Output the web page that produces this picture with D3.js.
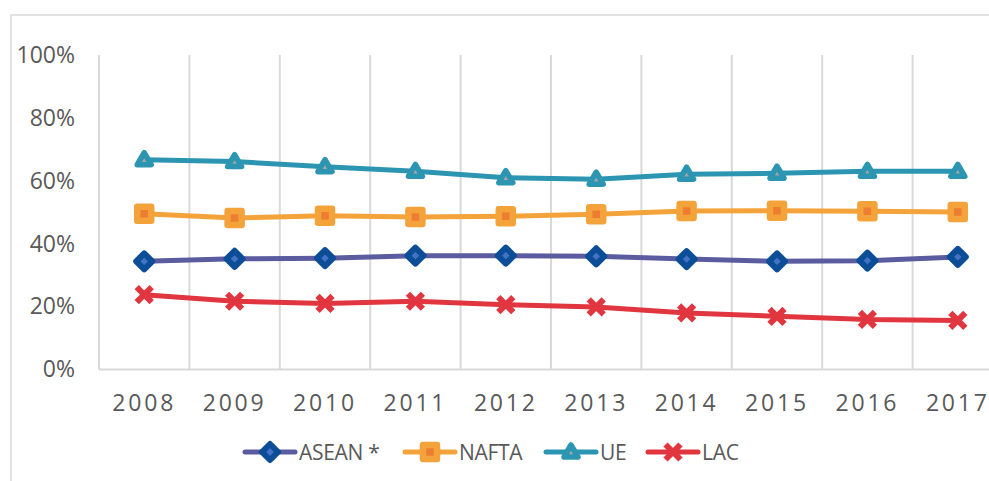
<html>
<head>
	<script src="https://d3js.org/d3.v7.min.js"></script>
</head>
<body style="margin:0; padding:0; background:#fff;">
	<script>
	var width = 989;
	var height = 481;

	// data
	var years = ["2008", "2009", "2010", "2011", "2012", "2013", "2014", "2015", "2016", "2017"];
	var asean = [0.344, 0.352, 0.354, 0.362, 0.362, 0.360, 0.351, 0.344, 0.346, 0.358];
	var nafta = [0.495, 0.482, 0.489, 0.485, 0.487, 0.494, 0.504, 0.505, 0.503, 0.501];
	var ue    = [0.667, 0.661, 0.645, 0.630, 0.610, 0.605, 0.621, 0.624, 0.630, 0.630];
	var lac   = [0.238, 0.217, 0.210, 0.217, 0.206, 0.199, 0.180, 0.169, 0.159, 0.156];
	var yTicks = [0, 0.2, 0.4, 0.6, 0.8, 1.0];

	var series = [
		{name: "ASEAN *", values: asean, line: "#5B5BA0", marker: "diamond"},
		{name: "NAFTA", values: nafta, line: "#F4A33A", marker: "square"},
		{name: "UE", values: ue, line: "#2B95B2", marker: "triangle"},
		{name: "LAC", values: lac, line: "#E1363F", marker: "cross"}
	];

	var svg = d3.select("body").append("svg")
		.attr("width", width)
		.attr("height", height);

	// outer chart border (goes off the right/bottom edge)
	svg.append("rect")
		.attr("x", 11).attr("y", 15)
		.attr("width", 1000).attr("height", 480)
		.attr("fill", "none")
		.attr("stroke", "#d9d9d9")
		.attr("stroke-width", 1.5);

	var x = d3.scaleBand().domain(years).range([99, 1003]);
	var y = d3.scaleLinear().domain([0, 1]).range([369.5, 55]);

	// vertical gridlines on category boundaries
	var bounds = years.map(function(d) { return x(d); });
	svg.append("g").selectAll("line").data(bounds).enter()
		.append("line")
			.attr("x1", function(d) { return d; })
			.attr("x2", function(d) { return d; })
			.attr("y1", y(1))
			.attr("y2", y(0))
			.attr("stroke", "#d9d9d9")
			.attr("stroke-width", 2);

	// baseline
	svg.append("line")
		.attr("x1", 99).attr("x2", 1003)
		.attr("y1", y(0)).attr("y2", y(0))
		.attr("stroke", "#d9d9d9")
		.attr("stroke-width", 2);

	// y labels
	var yAxis = d3.axisLeft(y).tickValues(yTicks).tickFormat(d3.format(".0%")).tickSize(0).tickPadding(0);
	var gy = svg.append("g").attr("transform", "translate(75,0)").call(yAxis);
	gy.select(".domain").remove();
	gy.selectAll("text")
		.attr("fill", "#595959")
		.style("font-family", "'Open Sans', sans-serif")
		.style("font-size", "23px");

	// x labels
	var xAxis = d3.axisBottom(x).tickSize(0).tickPadding(0);
	var gx = svg.append("g").attr("transform", "translate(0," + 395 + ")").call(xAxis);
	gx.select(".domain").remove();
	gx.selectAll("text")
		.attr("fill", "#595959")
		.attr("dy", "0.71em")
		.style("font-family", "'Open Sans', sans-serif")
		.style("font-size", "23px")
		.style("letter-spacing", "2.8px");

	var cx = function(i) { return x(years[i]) + x.bandwidth() / 2; };

	function drawMarker(g, type) {
		if (type == "diamond") {
			g.append("path").attr("d", "M0,-8L8,0L0,8L-8,0Z")
				.attr("fill", "#4472C4").attr("stroke", "#0B4D96")
				.attr("stroke-width", 6).attr("stroke-linejoin", "round");
		} else if (type == "square") {
			g.append("rect").attr("x", -7).attr("y", -7).attr("width", 14).attr("height", 14)
				.attr("fill", "#ED7D31").attr("stroke", "#F4A33A")
				.attr("stroke-width", 6.5).attr("stroke-linejoin", "round");
		} else if (type == "triangle") {
			g.append("path").attr("d", "M0,-7L7,5L-7,5Z")
				.attr("fill", "#A5A5A5").attr("stroke", "#2B95B2")
				.attr("stroke-width", 5.5).attr("stroke-linejoin", "round");
		} else {
			g.append("path").attr("d", "M-7.5,-7.5L7.5,7.5M7.5,-7.5L-7.5,7.5")
				.attr("stroke", "#E1363F").attr("stroke-width", 6);
		}
	}

	var line = d3.line()
		.x(function(d, i) { return cx(i); })
		.y(function(d) { return y(d); });

	series.forEach(function(s) {
		svg.append("path")
			.datum(s.values)
			.attr("d", line)
			.attr("fill", "none")
			.attr("stroke", s.line)
			.attr("stroke-width", 5)
			.attr("stroke-linejoin", "round");
	});

	series.forEach(function(s) {
		s.values.forEach(function(v, i) {
			var g = svg.append("g").attr("transform", "translate(" + cx(i) + "," + y(v) + ")");
			drawMarker(g, s.marker);
		});
	});

	// legend
	var legendX = [245, 405, 546, 648];
	var legendY = 452;
	series.forEach(function(s, i) {
		var lg = svg.append("g").attr("transform", "translate(" + legendX[i] + "," + legendY + ")");
		lg.append("line").attr("x1", 0).attr("x2", 50).attr("y1", 0).attr("y2", 0)
			.attr("stroke", s.line).attr("stroke-width", 5).attr("stroke-linecap", "round");
		var m = lg.append("g").attr("transform", "translate(25,0)");
		drawMarker(m, s.marker);
		lg.append("text")
			.attr("x", 54).attr("y", 0).attr("dy", "0.36em")
			.attr("fill", "#595959")
			.style("font-family", "'Open Sans', sans-serif")
			.style("font-size", "21px")
			.style("letter-spacing", "-0.3px")
			.text(s.name);
	});
	</script>
</body>
</html>
